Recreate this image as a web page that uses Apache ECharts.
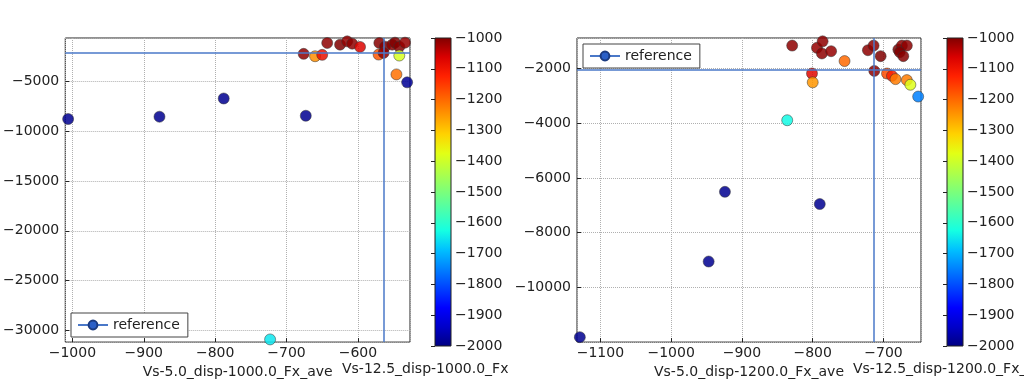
<!DOCTYPE html>
<html>
<head>
<meta charset="utf-8">
<script src="https://cdn.jsdelivr.net/npm/echarts@6/dist/echarts.min.js"></script>
<style>
html, body { margin: 0; padding: 0; background: #fff; }
#chart { width: 1024px; height: 384px; }
</style>
</head>
<body>
<div id="chart"></div>
<script>
// left panel: disp 1000
var leftX = [-643, -625, -615, -608, -597, -570, -562, -552, -548, -542, -534,
             -676, -660, -650, -571, -564, -542, -546, -531, -788, -1006, -878, -673, -723];
var leftY = [-1187, -1356, -1028, -1257, -1584, -1187, -1555, -1356, -1157, -1555, -1157,
             -2279, -2517, -2378, -2349, -2180, -2448, -4335, -5130, -6748, -8803, -8575, -8476, -30878];
var leftC = [-1010, -1000, -1015, -1010, -1070, -1005, -1000, -1010, -1000, -1005, -1015,
             -1010, -1240, -1090, -1180, -1010, -1390, -1210, -1980, -1985, -1985, -1985, -1985, -1650];

// right panel: disp 1200
var rightX = [-829, -794, -786, -787, -774, -755, -801, -800, -722, -714, -704, -679, -674, -667,
              -677, -672, -713, -695, -688, -683, -667, -662, -651, -836, -924, -790, -947, -1129];
var rightY = [-1173, -1255, -1018, -1460, -1378, -1737, -2191, -2514, -1342, -1173, -1558, -1317, -1173, -1173,
              -1414, -1558, -2097, -2191, -2277, -2396, -2432, -2601, -3032, -3896, -6507, -6953, -9050, -11809];
var rightC = [-1010, -1015, -1010, -1010, -1015, -1200, -1075, -1250, -1010, -1010, -1000, -1000, -1010, -1010,
              -1000, -1005, -1010, -1170, -1120, -1220, -1220, -1380, -1750, -1630, -1985, -1985, -1985, -1985];

// reference cross lines [left, right]
var refX = [-564, -714];
var refY = [-2120, -2072];

// axis ranges [left, right]
var xMin = [-1010, -1133];
var xMax = [-527, -647];
var yMin = [-31146, -11989];
var yMax = [-690, -896];
var cMin = -2000, cMax = -1000;

var xNames = ['Vs-5.0_disp-1000.0_Fx_ave', 'Vs-5.0_disp-1200.0_Fx_ave'];
var sideNames = ['Vs-12.5_disp-1000.0_Fx_ave', 'Vs-12.5_disp-1200.0_Fx_ave'];

// jet colormap samples, low -> high
var jet = ['#000080', '#0000c8', '#0000ff', '#0040ff', '#0080ff', '#00c0ff', '#15ffe2', '#48ffaf', '#7bff7b',
           '#afff48', '#e2ff15', '#ffd200', '#ff9700', '#ff5c00', '#ff2100', '#d80000', '#800000'];

var font = 'DejaVu Sans';
var fs = 14;
var minus = function (v) { return String(v).replace('-', '\u2212'); };

function zip(xs, ys, cs) {
    var out = [];
    for (var i = 0; i < xs.length; i++) out.push([xs[i], ys[i], cs[i]]);
    return out;
}

var jetStops = jet.map(function (c, i) { return { offset: i / (jet.length - 1), color: c }; });

var grids = [
    { left: 64, top: 38, width: 346, height: 307 },
    { left: 577, top: 38, width: 344, height: 308 }
];
var bars = [
    { left: 435, top: 38, width: 16, height: 308 },
    { left: 947, top: 38, width: 16, height: 308 }
];

var gridOpt = [], xAxes = [], yAxes = [], series = [], legends = [];
var xStep = [100, 100], yStep = [5000, 2000];
var legendPos = [{ left: 71, top: 313 }, { left: 583, top: 44 }];
var datas = [zip(leftX, leftY, leftC), zip(rightX, rightY, rightC)];

for (var k = 0; k < 2; k++) {
    gridOpt.push({
        left: grids[k].left, top: grids[k].top, width: grids[k].width, height: grids[k].height,
        show: true, borderColor: '#222', borderWidth: 1, backgroundColor: '#fff'
    });
    xAxes.push({
        type: 'value', gridIndex: k * 2, min: xMin[k], max: xMax[k],
        minInterval: xStep[k], maxInterval: xStep[k],
        name: xNames[k], nameLocation: 'middle', nameGap: 17,
        nameTextStyle: { fontFamily: font, fontSize: fs, color: '#222' },
        axisLine: { show: false },
        axisTick: { inside: true, length: 4, lineStyle: { color: '#222' } },
        axisLabel: { showMinLabel: false, showMaxLabel: false, margin: 4, fontFamily: font, fontSize: fs, color: '#222', formatter: minus },
        splitLine: { show: true, lineStyle: { color: '#b0b0b0', type: 'dotted', width: 1 } }
    });
    yAxes.push({
        type: 'value', gridIndex: k * 2, min: yMin[k], max: yMax[k],
        minInterval: yStep[k], maxInterval: yStep[k],
        axisLine: { show: false },
        axisTick: { inside: true, length: 4, lineStyle: { color: '#222' } },
        axisLabel: { showMinLabel: false, showMaxLabel: false, margin: 6, fontFamily: font, fontSize: fs, color: '#222', formatter: minus },
        splitLine: { show: true, lineStyle: { color: '#b0b0b0', type: 'dotted', width: 1 } }
    });

    // colorbar
    gridOpt.push({
        left: bars[k].left, top: bars[k].top, width: bars[k].width, height: bars[k].height,
        show: true, borderColor: '#222', borderWidth: 1,
        backgroundColor: { type: 'linear', x: 0, y: 1, x2: 0, y2: 0, colorStops: jetStops }
    });
    xAxes.push({ type: 'value', gridIndex: k * 2 + 1, min: 0, max: 1, show: false });
    yAxes.push({
        type: 'value', gridIndex: k * 2 + 1, min: cMin, max: cMax, interval: 100, position: 'right',
        axisLine: { show: false },
        axisTick: { inside: true, length: 4, lineStyle: { color: '#222' } },
        axisLabel: { margin: 4, fontFamily: font, fontSize: fs, color: '#222', formatter: minus },
        splitLine: { show: false }
    });

    series.push({
        type: 'scatter', name: 'pts' + k, xAxisIndex: k * 2, yAxisIndex: k * 2,
        symbolSize: 11, clip: false,
        itemStyle: { opacity: 0.85, borderColor: '#333', borderWidth: 0.6 },
        data: datas[k],
        markLine: {
            silent: true, symbol: ['none', 'none'], label: { show: false },
            lineStyle: { color: '#4a78c8', type: 'solid', width: 1.5 },
            data: [{ xAxis: refX[k] }, { yAxis: refY[k] }]
        }
    });
    series.push({
        type: 'line', name: 'reference', xAxisIndex: k * 2, yAxisIndex: k * 2,
        symbol: 'circle', symbolSize: 11,
        lineStyle: { color: '#4a78c8', width: 1.5 },
        itemStyle: { color: '#2a5fc7', borderColor: '#1a3a80', borderWidth: 0.6 },
        data: []
    });
    legends.push({
        data: ['reference'], left: legendPos[k].left, top: legendPos[k].top,
        orient: 'vertical', backgroundColor: '#fff', borderColor: '#444', borderWidth: 1,
        padding: [5, 8, 5, 6], itemWidth: 30, itemHeight: 11, itemGap: 0,
        textStyle: { fontFamily: font, fontSize: fs, color: '#222' }
    });
}

var option = {
    backgroundColor: '#fff',
    animation: false,
    grid: gridOpt,
    xAxis: xAxes,
    yAxis: yAxes,
    legend: legends,
    visualMap: {
        type: 'continuous', show: false, min: cMin, max: cMax, dimension: 2,
        seriesIndex: [0, 2], inRange: { color: jet }
    },
    graphic: [
        { type: 'text', left: 342, top: 362, style: { text: sideNames[0], width: 168, overflow: 'truncate', ellipsis: '', fontFamily: font, fontSize: fs, fill: '#222' } },
        { type: 'text', left: 853, top: 362, style: { text: sideNames[1], fontFamily: font, fontSize: fs, fill: '#222' } }
    ],
    series: series
};

var myChart = echarts.init(document.getElementById('chart'));
myChart.setOption(option);
</script>
</body>
</html>
